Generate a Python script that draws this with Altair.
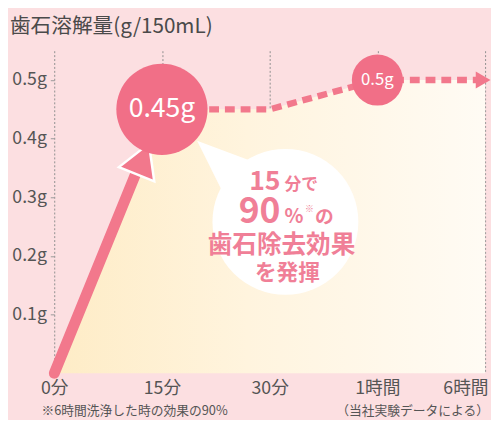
import altair as alt
import pandas as pd

# ---- data ----
times = ["0分", "15分", "30分", "1時間", "6時間"]
amounts = [0.0, 0.45, 0.45, 0.5, 0.5]
y_tick_values = [0.1, 0.2, 0.3, 0.4, 0.5]
big_label = "0.45g"      # value label at 15分
small_label = "0.5g"     # value label at 1時間
title_text = "歯石溶解量(g/150mL)"
note_left = "※6時間洗浄した時の効果の90%"
note_right = "（当社実験データによる）"
callout_15 = ["15", "分で"]
callout_90 = ["90", "%", "※", "の"]
callout_l3 = "歯石除去効果"
callout_l4 = "を発揮"

# ---- styling ----
W, H = 438, 328
BG = "#fcdfe1"
PINK = "#f2788c"
CIRCLE = "#f16f87"
TXT_PINK = "#f07f97"
GRAY = "#555555"
FONT = "Noto Sans CJK JP"

df = pd.DataFrame({"time": times, "amount": amounts})

x_enc = alt.X(
    "time:N",
    sort=times,
    scale=alt.Scale(type="point", padding=0, domain=times),
    axis=alt.Axis(
        title=None, labelAngle=0, labelFontSize=18, labelColor=GRAY, labelFont=FONT,
        labelPadding=6, domain=False, ticks=False, grid=True, gridDash=[2, 2],
        gridColor="#8f8f8f", gridWidth=1,
        labelAlign={"condition": {"test": "datum.value === '6時間'", "value": "right"}, "value": "center"},
        labelOffset={"condition": {"test": "datum.value === '6時間'", "value": 3}, "value": 0},
    ),
)
y_enc = alt.Y(
    "amount:Q",
    scale=alt.Scale(domain=[0, 0.55], nice=False, zero=True),
    axis=alt.Axis(
        title=None, values=y_tick_values, labelExpr="format(datum.value, '.1f') + 'g'",
        labelFontSize=18, labelColor=GRAY, labelFont=FONT, grid=False, domain=False,
        ticks=True, tickSize=4, tickColor="#999999", labelPadding=4,
    ),
)

base = alt.Chart(df).encode(x=x_enc, y=y_enc)

area = base.mark_area(
    color=alt.Gradient(
        gradient="linear",
        stops=[
            alt.GradientStop(color="#feecc6", offset=0),
            alt.GradientStop(color="#fff4de", offset=0.45),
            alt.GradientStop(color="#fffbf4", offset=1),
        ],
        x1=0, x2=1, y1=0, y2=0,
    )
)

solid = alt.Chart(df.iloc[:2]).mark_line(
    color=PINK, strokeWidth=11, strokeCap="round"
).encode(x=x_enc, y=y_enc)

dotted = alt.Chart(df.iloc[1:]).mark_line(
    color=PINK, strokeWidth=6.5, strokeDash=[10, 6]
).encode(x=x_enc, y=y_enc)

end_arrow = alt.Chart(df.iloc[-1:]).mark_point(
    shape="triangle-right", filled=True, color=PINK, size=300, opacity=1, xOffset=-2
).encode(x=x_enc, y=y_enc)

# arrow head on the solid rise (decoration)
arrow_head = alt.Chart(df.iloc[:1]).mark_point(
    shape="triangle-up", filled=True, fill=PINK, stroke="white", strokeWidth=2.5,
    size=1500, opacity=1, angle=22,
).encode(x=alt.value(90), y=alt.value(110))

big = df[df["time"] == "15分"].assign(label=big_label)
small = df[df["time"] == "1時間"].assign(label=small_label)

big_circle = alt.Chart(big).mark_circle(color=CIRCLE, size=8600, opacity=1).encode(x=x_enc, y=y_enc)
big_text = alt.Chart(big).mark_text(
    color="white", fontSize=27, font=FONT, baseline="middle"
).encode(x=x_enc, y=y_enc, text="label:N")
small_circle = alt.Chart(small).mark_circle(color=CIRCLE, size=2700, opacity=1).encode(x=x_enc, y=y_enc)
small_text = alt.Chart(small).mark_text(
    color="white", fontSize=17, font=FONT, baseline="middle"
).encode(x=x_enc, y=y_enc, text="label:N")

# speech bubble (decoration)
BX, BY = 235, 174
one = pd.DataFrame({"k": [0]})
bubble_tail = alt.Chart(one).mark_point(
    shape="M0,-1L0.75,0.9L-0.75,0.9Z", filled=True, color="white", opacity=1,
    size=4096, angle=312,
).encode(x=alt.value(BX - 66), y=alt.value(BY - 61))
bubble = alt.Chart(one).mark_circle(color="white", opacity=1, size=22000).encode(
    x=alt.value(BX), y=alt.value(BY)
)

def txt(s, dx, dy, size, align, bold=False):
    return alt.Chart(one).mark_text(
        text=s, color=TXT_PINK, fontSize=size, font=FONT, align=align,
        baseline="alphabetic", fontWeight="bold" if bold else "normal",
    ).encode(x=alt.value(BX + dx), y=alt.value(BY + dy))

bubble_texts = [
    txt(callout_15[0], -5, -32, 27, "right", True),
    txt(callout_15[1], -1, -32, 17, "left", True),
    txt(callout_90[0], -5, 1, 36, "right", True),
    txt(callout_90[1], -1, 1, 20, "left", True),
    txt(callout_90[2], 20, -10, 9, "left"),
    txt(callout_90[3], 30, 1, 19, "left", True),
    txt(callout_l3, -4, 32, 25, "center", True),
    txt(callout_l4, 2, 59, 22, "center", True),
]

# title and notes (text outside the plot area)
title = alt.Chart(one).mark_text(
    text=title_text, color="#4a4a4a", fontSize=21, font=FONT, align="left", baseline="alphabetic"
).encode(x=alt.value(-45), y=alt.value(-18))
note1 = alt.Chart(one).mark_text(
    text=note_left, color=GRAY, fontSize=13, font=FONT, align="left", baseline="alphabetic"
).encode(x=alt.value(-13), y=alt.value(370))
note2 = alt.Chart(one).mark_text(
    text=note_right, color=GRAY, fontSize=13, font=FONT, align="right", baseline="alphabetic"
).encode(x=alt.value(442), y=alt.value(370))

chart = alt.layer(
    area, dotted, solid, arrow_head, big_circle, big_text, small_circle, small_text,
    end_arrow, bubble_tail, bubble, *bubble_texts, title, note1, note2,
).properties(
    width=W, height=H,
    background=BG,
    padding={"left": 47, "top": 40, "right": 6, "bottom": 44},
    autosize=alt.AutoSizeParams(type="none"),
).configure_view(stroke=None)

chart.save("out.html", embed_options={"renderer": "svg", "actions": False})
